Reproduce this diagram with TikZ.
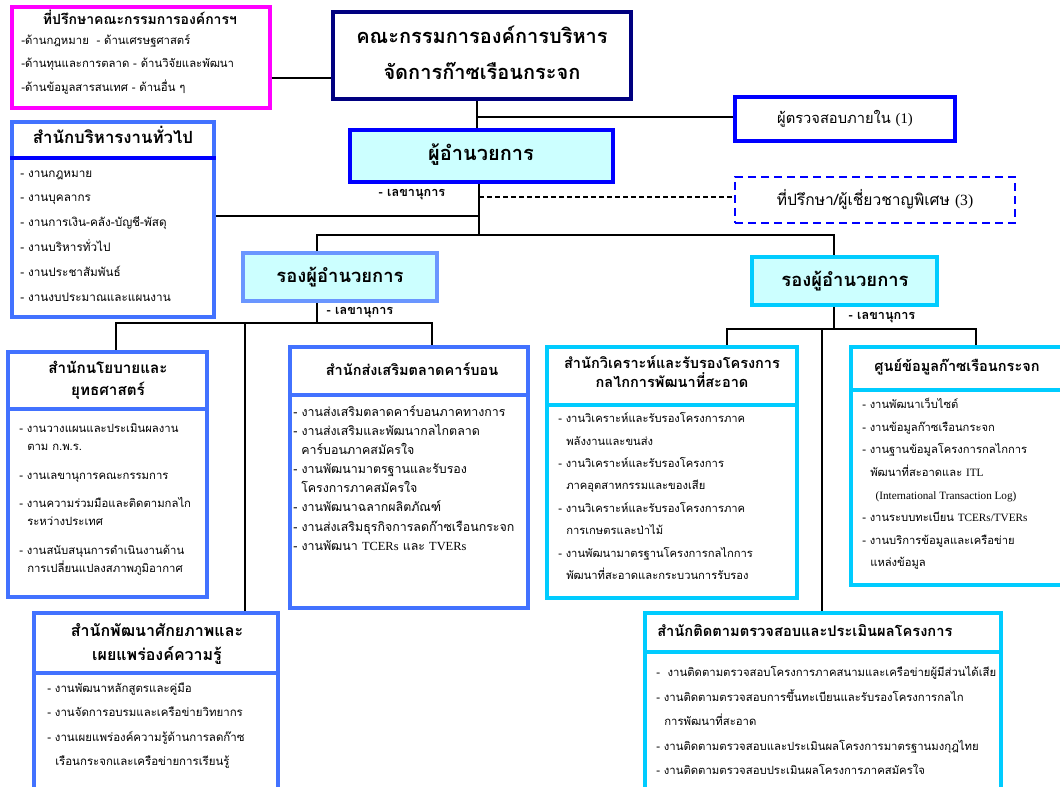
\documentclass[tikz,border=0pt]{standalone}
\usepackage{fontspec}
\setmainfont{Loma}[Script=Thai]
\newfontfamily\tnr{Liberation Serif}
\usetikzlibrary{fit}
\definecolor{navyb}{HTML}{000080}
\definecolor{pureb}{HTML}{0000FF}
\definecolor{royalb}{HTML}{4272FF}
\definecolor{paleb}{HTML}{6A96FF}
\definecolor{cyanb}{HTML}{00CCFF}
\definecolor{cyanfill}{HTML}{CCFFFF}
\definecolor{pinkb}{HTML}{FF00FF}
\tikzset{
	box/.style={draw=#1, line width=3pt, inner sep=0pt},
	link/.style={line width=2pt},
	head/.style={font=\bfseries\fontsize{10.9}{#1}\selectfont, align=center, inner sep=0pt},
	items/.style={font=\fontsize{8.5}{#1}\selectfont, align=left, anchor=north west, inner sep=0pt,
		execute at begin node={\rule{0pt}{12pt}}},
	sec/.style={font=\bfseries\fontsize{9.5}{11}\selectfont, inner sep=0pt},
}
\begin{document}
\begin{tikzpicture}[x=0.75pt,y=-0.75pt]
	\useasboundingbox (0,0) rectangle (1060,787);
	% top level
	\node[box=pinkb, fit={(12,7) (270,108)}] (pink) {};
	\node[head=12, font=\bfseries\fontsize{10.5}{12}\selectfont] (pinkhead) at (140,17) {ที่ปรึกษาคณะกรรมการองค์การฯ};
	\node[items=17.6] (pinkbody) at (21,34) {-ด้านกฎหมาย\ \ - ด้านเศรษฐศาสตร์\\-ด้านทุนและการตลาด - ด้านวิจัยและพัฒนา\\-ด้านข้อมูลสารสนเทศ - ด้านอื่น ๆ};
	\node[box=navyb, fit={(333,12) (631,99)}] (board) {};
	\node[head=27, font=\bfseries\fontsize{15}{27}\selectfont] (boardtext) at (482,53) {คณะกรรมการองค์การบริหาร\\จัดการก๊าซเรือนกระจก};
	\node[box=pureb, fit={(735,97) (955,141)}] (audit) {};
	\node[font=\fontsize{11}{13}\selectfont] (audittext) at (845,119) {ผู้ตรวจสอบภายใน {\tnr (1)}};
	\node[box=pureb, fill=cyanfill, fit={(350,130) (613,182)}] (dir) {};
	\node[font=\bfseries\fontsize{15}{18}\selectfont] (dirtext) at (481,155) {ผู้อำนวยการ};
	\node[box=pureb, dash pattern=on 6pt off 3.75pt, line width=2pt, fit={(735,177) (1015,223)}] (advisor) {};
	\node[font=\fontsize{11.7}{14}\selectfont] (advisortext) at (875,200) {ที่ปรึกษา/ผู้เชี่ยวชาญพิเศษ {\tnr (3)}};
	\node[sec] (dirsec) at (412,195) {- เลขานุการ};
	% deputies
	\node[box=paleb, fill=cyanfill, fit={(243,253) (437,301)}] (dep1) {};
	\node[font=\bfseries\fontsize{13.8}{16}\selectfont] (dep1text) at (340,277) {รองผู้อำนวยการ};
	\node[sec] (dep1sec) at (360,313) {- เลขานุการ};
	\node[box=cyanb, fill=cyanfill, fit={(752,257) (937,305)}] (dep2) {};
	\node[font=\bfseries\fontsize{13.8}{16}\selectfont] (dep2text) at (845,281) {รองผู้อำนวยการ};
	\node[sec] (dep2sec) at (882,318) {- เลขานุการ};
	% general administration
	\node[box=royalb, fit={(12,122) (214,317)}] (admin) {};
	\draw[pureb, line width=3pt] (admin.west |- 0,158) -- (admin.east |- 0,158);
	\node[head=16, font=\bfseries\fontsize{12.6}{16}\selectfont] (adminhead) at (113,135) {สำนักบริหารงานทั่วไป};
	\node[items=18.6, font=\fontsize{8.8}{18.6}\selectfont] (adminbody) at (20,170.3) {- งานกฎหมาย\\- งานบุคลากร\\- งานการเงิน-คลัง-บัญชี-พัสดุ\\- งานบริหารทั่วไป\\- งานประชาสัมพันธ์\\- งานงบประมาณและแผนงาน};
	% offices under deputy 1
	\node[box=royalb, fit={(8,352) (207,597)}] (policy) {};
	\draw[royalb, line width=3pt] (policy.west |- 0,409) -- (policy.east |- 0,409);
	\node[head=16.5, font=\bfseries\fontsize{11.4}{16.5}\selectfont] (policyhead) at (108,380) {สำนักนโยบายและ\\ยุทธศาสตร์};
	\node[items=13.5] (policybody) at (19,423.3) {- งานวางแผนและประเมินผลงาน\\\hspace{6pt}ตาม ก.พ.ร.\\[8pt]- งานเลขานุการคณะกรรมการ\\[8pt]- งานความร่วมมือและติดตามกลไก\\\hspace{6pt}ระหว่างประเทศ\\[8pt]- งานสนับสนุนการดำเนินงานด้าน\\\hspace{6pt}การเปลี่ยนแปลงสภาพภูมิอากาศ};
	\node[box=royalb, fit={(290,347) (528,608)}] (carbon) {};
	\draw[royalb, line width=3pt] (carbon.west |- 0,395) -- (carbon.east |- 0,395);
	\node[head=16] (carbonhead) at (412,369) {สำนักส่งเสริมตลาดคาร์บอน};
	\node[items=14.3, font=\fontsize{9.3}{14.3}\selectfont] (carbonbody) at (293,405.5) {- งานส่งเสริมตลาดคาร์บอนภาคทางการ\\- งานส่งเสริมและพัฒนากลไกตลาด\\\hspace{6pt}คาร์บอนภาคสมัครใจ\\- งานพัฒนามาตรฐานและรับรอง\\\hspace{6pt}โครงการภาคสมัครใจ\\- งานพัฒนาฉลากผลิตภัณฑ์\\- งานส่งเสริมธุรกิจการลดก๊าซเรือนกระจก\\- งานพัฒนา {\tnr TCERs} และ {\tnr TVERs}};
	\node[box=royalb, fit={(34,613) (278,800)}] (capacity) {};
	\draw[royalb, line width=3pt] (capacity.west |- 0,673) -- (capacity.east |- 0,673);
	\node[head=18, font=\bfseries\fontsize{12}{18}\selectfont] (capacityhead) at (157,644) {สำนักพัฒนาศักยภาพและ\\เผยแพร่องค์ความรู้};
	\node[items=18.3, font=\fontsize{8.6}{18.3}\selectfont] (capacitybody) at (47,682.3) {- งานพัฒนาหลักสูตรและคู่มือ\\- งานจัดการอบรมและเครือข่ายวิทยากร\\- งานเผยแพร่องค์ความรู้ด้านการลดก๊าซ\\\hspace{6pt}เรือนกระจกและเครือข่ายการเรียนรู้};
	% offices under deputy 2
	\node[box=cyanb, fit={(547,347) (797,598)}] (cdm) {};
	\draw[cyanb, line width=3pt] (cdm.west |- 0,405) -- (cdm.east |- 0,405);
	\node[head=14.3] (cdmhead) at (672,372) {สำนักวิเคราะห์และรับรองโครงการ\\กลไกการพัฒนาที่สะอาด};
	\node[items=16.8, font=\fontsize{8.4}{16.8}\selectfont] (cdmbody) at (558,412.3) {- งานวิเคราะห์และรับรองโครงการภาค\\\hspace{6pt}พลังงานและขนส่ง\\- งานวิเคราะห์และรับรองโครงการ\\\hspace{6pt}ภาคอุตสาหกรรมและของเสีย\\- งานวิเคราะห์และรับรองโครงการภาค\\\hspace{6pt}การเกษตรและป่าไม้\\- งานพัฒนามาตรฐานโครงการกลไกการ\\\hspace{6pt}พัฒนาที่สะอาดและกระบวนการรับรอง};
	\node[box=cyanb, fit={(851,347) (1067,585)}] (data) {};
	\draw[cyanb, line width=3pt] (data.west |- 0,390) -- (data.east |- 0,390);
	\node[head=16] (datahead) at (957,367) {ศูนย์ข้อมูลก๊าซเรือนกระจก};
	\node[items=16.9, font=\fontsize{8.4}{16.9}\selectfont] (databody) at (862,398.3) {- งานพัฒนาเว็บไซต์\\- งานข้อมูลก๊าซเรือนกระจก\\- งานฐานข้อมูลโครงการกลไกการ\\\hspace{6pt}พัฒนาที่สะอาดและ {\tnr ITL}\\\hspace{10pt}{\tnr (International Transaction Log)}\\- งานระบบทะเบียน {\tnr TCERs/TVERs}\\- งานบริการข้อมูลและเครือข่าย\\\hspace{6pt}แหล่งข้อมูล};
	\node[box=cyanb, fit={(645,613) (1001,800)}] (monitor) {};
	\draw[cyanb, line width=3pt] (monitor.west |- 0,652) -- (monitor.east |- 0,652);
	\node[head=16, font=\bfseries\fontsize{11}{16}\selectfont, anchor=west] (monitorhead) at (657,631) {สำนักติดตามตรวจสอบและประเมินผลโครงการ};
	\node[items=18.4] (monitorbody) at (656,666.3) {-\ \ งานติดตามตรวจสอบโครงการภาคสนามและเครือข่ายผู้มีส่วนได้เสีย\\- งานติดตามตรวจสอบการขึ้นทะเบียนและรับรองโครงการกลไก\\\hspace{6pt}การพัฒนาที่สะอาด\\- งานติดตามตรวจสอบและประเมินผลโครงการมาตรฐานมงกุฎไทย\\- งานติดตามตรวจสอบประเมินผลโครงการภาคสมัครใจ};
	% connectors
	\coordinate (jadv) at (300,78);
	\coordinate (jaud) at (477,117);
	\coordinate (jsec) at (479,197);
	\coordinate (jadm) at (479,216);
	\coordinate (jdep) at (479,235);
	\coordinate (jd1) at (317,235);
	\coordinate (jd2) at (834,235);
	\draw[link] (pink.east |- jadv) -- (board.west |- jadv);
	\draw[link] (board.south -| jaud) -- (dir.north -| jaud);
	\draw[link] (jaud) -- (audit.west |- jaud);
	\draw[link] (dir.south -| jdep) -- (jdep);
	\draw[link] (jadm) -- (admin.east |- jadm);
	\draw[dash pattern=on 3.5pt off 2.5pt, line width=1pt] (jsec) -- (advisor.west |- jsec);
	\draw[link] (dep1.north -| jd1) -- (jd1) -- (jd2) -- (dep2.north -| jd2);
	% deputy 1 branches
	\coordinate (jl) at (317,323);
	\coordinate (jl1) at (116,323);
	\coordinate (jl2) at (245,323);
	\coordinate (jl3) at (432,323);
	\draw[link] (dep1.south -| jl) -- (jl);
	\draw[link] (policy.north -| jl1) -- (jl1) -- (jl3) -- (carbon.north -| jl3);
	\draw[link] (jl2) -- (capacity.north -| jl2);
	% deputy 2 branches
	\coordinate (jr) at (834,329);
	\coordinate (jr1) at (727,329);
	\coordinate (jr2) at (822,329);
	\coordinate (jr3) at (976,329);
	\draw[link] (dep2.south -| jr) -- (jr);
	\draw[link] (cdm.north -| jr1) -- (jr1) -- (jr3) -- (data.north -| jr3);
	\draw[link] (jr2) -- (monitor.north -| jr2);
\end{tikzpicture}
\end{document}
